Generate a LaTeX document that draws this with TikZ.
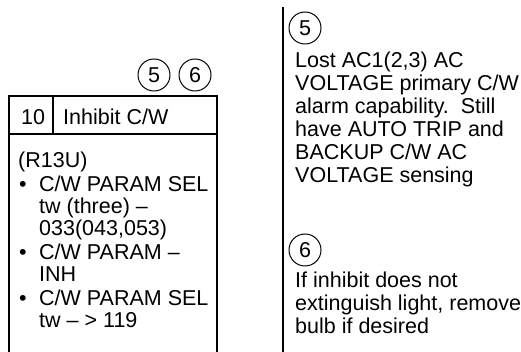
\documentclass[tikz,border=0pt]{standalone}
\usepackage{fontspec}
\setmainfont{Liberation Sans}
\begin{document}
\begin{tikzpicture}[x=1pt,y=1pt,
  frame/.style={line width=1.8pt},
  numcirc/.style={circle,draw,line width=1pt,inner sep=0pt,minimum size=32pt,font=\fontsize{21.5}{23}\selectfont},
  txt/.style={anchor=base west,inner sep=0pt,align=left,font=\fontsize{21.5}{23}\selectfont},
  bodytxt/.style={txt,font=\fontsize{21.5}{22}\selectfont}
]
\useasboundingbox (0,0) rectangle (521,352);
% left table
\draw[frame] (9,-2) -- (9,256) -- (217,256) -- (217,-2);
\draw[frame] (9,218) -- (217,218);
\draw[line width=1.2pt] (53,218) -- (53,256);
\node[txt] (num) at (21,227.5) {10};
\node[txt] (title) at (63,227.5) {Inhibit C/W};
\node[numcirc] (c5a) at (154,277) {5};
\node[numcirc] (c6a) at (195,277) {6};
\newcommand{\bul}{\makebox[21pt][l]{\hspace{1pt}•}}
\newcommand{\ind}{\hspace*{21pt}}
\node[bodytxt] (body) at (18,24.5) {(R13U)\\[2pt]
\bul C/W PARAM SEL\\
\ind tw (three) –\\
\ind 033(043,053)\\[2pt]
\bul C/W PARAM –\\
\ind INH\\[2pt]
\bul C/W PARAM SEL\\
\ind tw – > 119};
% right notes
\draw[frame] (283,352-7) -- (283,-2);
\node[numcirc] (c5b) at (305,324) {5};
\node[txt] (note5) at (295,169.5) {Lost AC1(2,3) AC\\
VOLTAGE primary C/W\\
alarm capability.\ \ Still\\
have AUTO TRIP and\\
BACKUP C/W AC\\
VOLTAGE sensing};
\node[numcirc] (c6b) at (305,102) {6};
\node[txt] (note6) at (295,18.5) {If inhibit does not\\
extinguish light, remove\\
bulb if desired};
\end{tikzpicture}
\end{document}
